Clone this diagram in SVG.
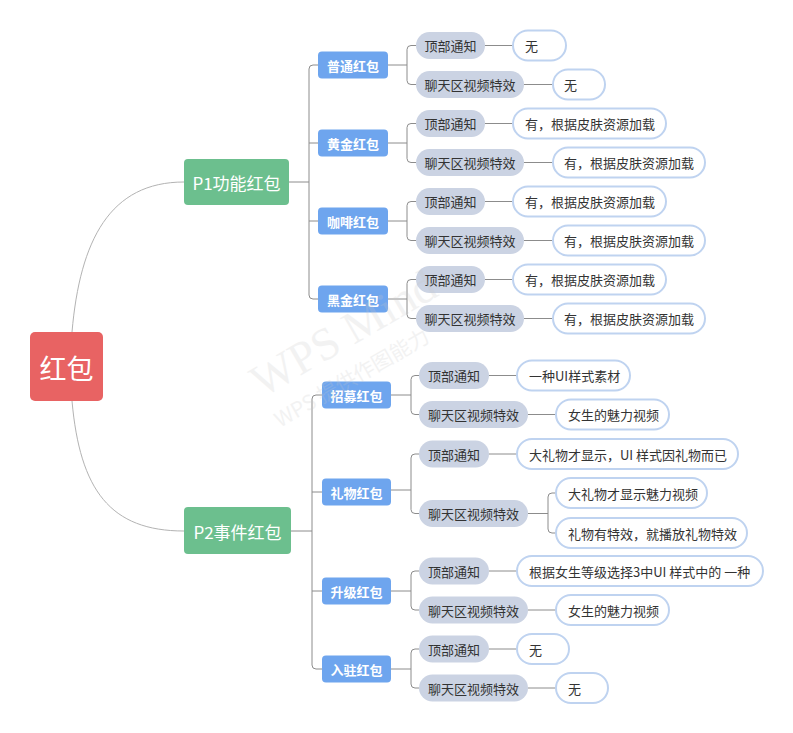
<svg xmlns="http://www.w3.org/2000/svg" width="793" height="733" viewBox="0 0 793 733">
<style>
text{font-family:"Noto Sans CJK SC","Liberation Sans",sans-serif;dominant-baseline:central}
.root rect{fill:#E86363}
.root text{fill:#fff;font-size:27px;text-anchor:middle}
.l1 rect{fill:#6CBF8E}
.l1 text{fill:#fff;font-size:17px;text-anchor:middle}
.l2 rect{fill:#6EA5EE}
.l2 text{fill:#fff;font-size:13px;font-weight:bold;text-anchor:middle}
.pill rect{fill:#CBD3E3}
.pill text{fill:#333;font-size:13px;text-anchor:middle}
.leaf rect{fill:#fff;stroke:#BFD3F0;stroke-width:2}
.leaf text{fill:#333;font-size:13px}
.curve{fill:none;stroke:#B3B3B3;stroke-width:1}
.conn{fill:none;stroke:#8C8C8C;stroke-width:1}
.wm{fill:#C8C8C8;opacity:0.22;font-family:"Liberation Serif",serif}
</style>
<rect width="793" height="733" fill="#fff"/>
<g id="connectors">
<path class="curve" d="M72,332 C80,240 110,182 184,182"/>
<path class="curve" d="M72,401 C80,490 110,531 184,531"/>
<path class="conn" d="M289,182 H309 M318,65 H313 Q309,65 309,69 V295 Q309,299 313,299 H318 M309,143 H318 M309,221 H318"/>
<path class="conn" d="M291,531 H312 M322,395 H316 Q312,395 312,399 V665 Q312,669 316,669 H322 M312,492 H322 M312,591 H322"/>
<path class="conn" d="M388,65 H407 M416,45.5 H411 Q407,45.5 407,49.5 V80.5 Q407,84.5 411,84.5 H416"/>
<path class="conn" d="M388,143 H407 M416,123.5 H411 Q407,123.5 407,127.5 V158.5 Q407,162.5 411,162.5 H416"/>
<path class="conn" d="M388,221 H407 M416,201.5 H411 Q407,201.5 407,205.5 V236.5 Q407,240.5 411,240.5 H416"/>
<path class="conn" d="M388,299 H407 M416,279.5 H411 Q407,279.5 407,283.5 V314.5 Q407,318.5 411,318.5 H416"/>
<path class="conn" d="M485,45.5 H513 M524,84.5 H553 M485,123.5 H513 M524,162.5 H553 M485,201.5 H513 M524,240.5 H553 M485,279.5 H513 M524,318.5 H553"/>
<path class="conn" d="M391,395 H411 M419,375.5 H415 Q411,375.5 411,379.5 V410.5 Q411,414.5 415,414.5 H419"/>
<path class="conn" d="M391,490 H411 M419,454 H415 Q411,454 411,458 V509.5 Q411,513.5 415,513.5 H419"/>
<path class="conn" d="M391,591 H411 M419,571 H415 Q411,571 411,575 V606 Q411,610 415,610 H419"/>
<path class="conn" d="M391,669 H411 M419,649 H415 Q411,649 411,653 V684 Q411,688 415,688 H419"/>
<path class="conn" d="M489,375.5 H517 M528,414.5 H556 M489,454 H517 M489,571 H517 M528,610 H556 M489,649 H517 M528,688 H556"/>
<path class="conn" d="M528,513.5 H548 M556,493 H552 Q548,493 548,497 V529 Q548,533 552,533 H556"/>
</g>
<g id="n-root" class="root"><rect x="30" y="332" width="73" height="69" rx="5"/><text x="66.5" y="367">红包</text></g>
<g id="n-p1" class="l1"><rect x="184" y="159" width="105" height="46" rx="4"/><text x="236.5" y="182">P1功能红包</text></g>
<g id="n-p2" class="l1"><rect x="184" y="507" width="107" height="47" rx="4"/><text x="237.5" y="531">P2事件红包</text></g>
<g id="n-putong" class="l2"><rect x="318" y="51.5" width="70" height="27" rx="4"/><text x="353" y="65">普通红包</text></g>
<g id="n-huangjin" class="l2"><rect x="318" y="129.5" width="70" height="27" rx="4"/><text x="353" y="143">黄金红包</text></g>
<g id="n-kafei" class="l2"><rect x="318" y="207.5" width="70" height="27" rx="4"/><text x="353" y="221">咖啡红包</text></g>
<g id="n-heijin" class="l2"><rect x="318" y="285.5" width="70" height="27" rx="4"/><text x="353" y="299">黑金红包</text></g>
<g id="n-zhaomu" class="l2"><rect x="322" y="381.5" width="69" height="27" rx="4"/><text x="356.5" y="395">招募红包</text></g>
<g id="n-liwu" class="l2"><rect x="322" y="478.5" width="69" height="27" rx="4"/><text x="356.5" y="492">礼物红包</text></g>
<g id="n-shengji" class="l2"><rect x="322" y="577.5" width="69" height="27" rx="4"/><text x="356.5" y="591">升级红包</text></g>
<g id="n-ruzhu" class="l2"><rect x="322" y="655.5" width="69" height="27" rx="4"/><text x="356.5" y="669">入驻红包</text></g>
<g id="n-p1-1a" class="pill"><rect x="416" y="32" width="69" height="27" rx="13.5"/><text x="450.5" y="45.5">顶部通知</text></g>
<g id="n-p1-1b" class="pill"><rect x="416" y="71" width="108" height="27" rx="13.5"/><text x="470" y="84.5">聊天区视频特效</text></g>
<g id="n-p1-2a" class="pill"><rect x="416" y="110" width="69" height="27" rx="13.5"/><text x="450.5" y="123.5">顶部通知</text></g>
<g id="n-p1-2b" class="pill"><rect x="416" y="149" width="108" height="27" rx="13.5"/><text x="470" y="162.5">聊天区视频特效</text></g>
<g id="n-p1-3a" class="pill"><rect x="416" y="188" width="69" height="27" rx="13.5"/><text x="450.5" y="201.5">顶部通知</text></g>
<g id="n-p1-3b" class="pill"><rect x="416" y="227" width="108" height="27" rx="13.5"/><text x="470" y="240.5">聊天区视频特效</text></g>
<g id="n-p1-4a" class="pill"><rect x="416" y="266" width="69" height="27" rx="13.5"/><text x="450.5" y="279.5">顶部通知</text></g>
<g id="n-p1-4b" class="pill"><rect x="416" y="305" width="108" height="27" rx="13.5"/><text x="470" y="318.5">聊天区视频特效</text></g>
<g id="n-p2-1a" class="pill"><rect x="419" y="362" width="70" height="27" rx="13.5"/><text x="454" y="375.5">顶部通知</text></g>
<g id="n-p2-1b" class="pill"><rect x="419" y="401" width="109" height="27" rx="13.5"/><text x="473.5" y="414.5">聊天区视频特效</text></g>
<g id="n-p2-2a" class="pill"><rect x="419" y="440.5" width="70" height="27" rx="13.5"/><text x="454" y="454">顶部通知</text></g>
<g id="n-p2-2b" class="pill"><rect x="419" y="500" width="109" height="27" rx="13.5"/><text x="473.5" y="513.5">聊天区视频特效</text></g>
<g id="n-p2-3a" class="pill"><rect x="419" y="557.5" width="70" height="27" rx="13.5"/><text x="454" y="571">顶部通知</text></g>
<g id="n-p2-3b" class="pill"><rect x="419" y="596.5" width="109" height="27" rx="13.5"/><text x="473.5" y="610">聊天区视频特效</text></g>
<g id="n-p2-4a" class="pill"><rect x="419" y="635.5" width="70" height="27" rx="13.5"/><text x="454" y="649">顶部通知</text></g>
<g id="n-p2-4b" class="pill"><rect x="419" y="674.5" width="109" height="27" rx="13.5"/><text x="473.5" y="688">聊天区视频特效</text></g>
<g id="l-1a" class="leaf"><rect x="513" y="30.5" width="53" height="30" rx="15"/><text x="525" y="45.5">无</text></g>
<g id="l-1b" class="leaf"><rect x="553" y="69.5" width="52" height="30" rx="15"/><text x="564" y="84.5">无</text></g>
<g id="l-2a" class="leaf"><rect x="513" y="108.5" width="153" height="30" rx="15"/><text x="525" y="123.5">有，根据皮肤资源加载</text></g>
<g id="l-2b" class="leaf"><rect x="553" y="147.5" width="152" height="30" rx="15"/><text x="564" y="162.5">有，根据皮肤资源加载</text></g>
<g id="l-3a" class="leaf"><rect x="513" y="186.5" width="153" height="30" rx="15"/><text x="525" y="201.5">有，根据皮肤资源加载</text></g>
<g id="l-3b" class="leaf"><rect x="553" y="225.5" width="152" height="30" rx="15"/><text x="564" y="240.5">有，根据皮肤资源加载</text></g>
<g id="l-4a" class="leaf"><rect x="513" y="264.5" width="153" height="30" rx="15"/><text x="525" y="279.5">有，根据皮肤资源加载</text></g>
<g id="l-4b" class="leaf"><rect x="553" y="303.5" width="152" height="30" rx="15"/><text x="564" y="318.5">有，根据皮肤资源加载</text></g>
<g id="l-5a" class="leaf"><rect x="517" y="360.5" width="113" height="30" rx="15"/><text x="529" y="375.5">一种UI样式素材</text></g>
<g id="l-5b" class="leaf"><rect x="556" y="399.5" width="113" height="30" rx="15"/><text x="568" y="414.5">女生的魅力视频</text></g>
<g id="l-6a" class="leaf"><rect x="517" y="439" width="221" height="30" rx="15"/><text x="529" y="454">大礼物才显示，UI 样式因礼物而已</text></g>
<g id="l-6b" class="leaf"><rect x="556" y="478" width="151" height="30" rx="15"/><text x="568" y="493">大礼物才显示魅力视频</text></g>
<g id="l-6c" class="leaf"><rect x="556" y="518" width="191" height="30" rx="15"/><text x="568" y="533">礼物有特效，就播放礼物特效</text></g>
<g id="l-7a" class="leaf"><rect x="517" y="556" width="246" height="30" rx="15"/><text x="529" y="571">根据女生等级选择3中UI 样式中的 一种</text></g>
<g id="l-7b" class="leaf"><rect x="556" y="595" width="113" height="30" rx="15"/><text x="568" y="610">女生的魅力视频</text></g>
<g id="l-8a" class="leaf"><rect x="517" y="634" width="52" height="30" rx="15"/><text x="529" y="649">无</text></g>
<g id="l-8b" class="leaf"><rect x="556" y="673" width="52" height="30" rx="15"/><text x="568" y="688">无</text></g>
<g id="watermark">
<text class="wm" font-size="46" transform="translate(262,398) rotate(-30)" style="dominant-baseline:auto">WPS Mind</text>
<text class="wm" font-size="21" transform="translate(280,428) rotate(-30)" style="dominant-baseline:auto;font-family:'Noto Sans CJK SC',sans-serif">WPS 提供作图能力</text>
</g>
</svg>
